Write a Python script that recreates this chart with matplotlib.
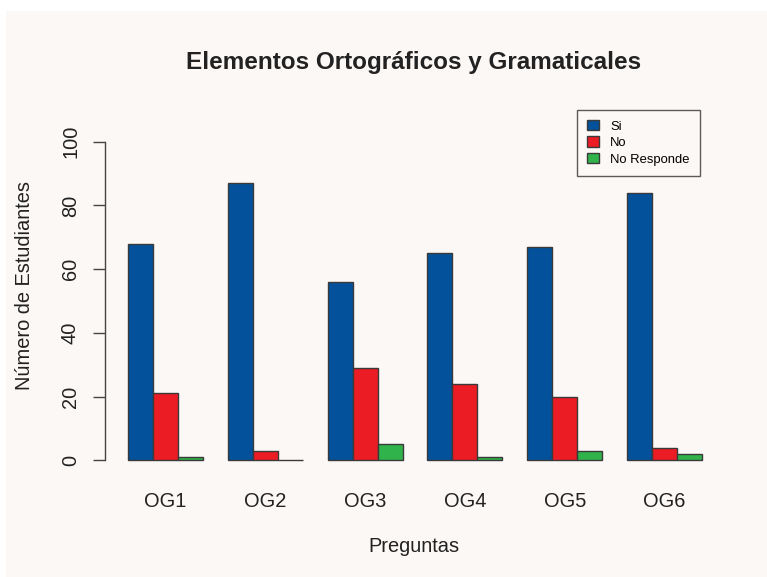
import matplotlib
matplotlib.use("Agg")
import matplotlib.pyplot as plt
import numpy as np
from matplotlib.patches import Rectangle

categories = ["OG1", "OG2", "OG3", "OG4", "OG5", "OG6"]
si = [68, 87, 56, 65, 67, 84]
no = [21, 3, 29, 24, 20, 4]
no_responde = [1, 0, 5, 1, 3, 2]
series_names = ["Si", "No", "No Responde"]
colors = ["#02519A", "#EC1C24", "#2FB34A"]
title = "Elementos Ortográficos y Gramaticales"
xlabel = "Preguntas"
ylabel = "Número de Estudiantes"
yticks = [0, 20, 40, 60, 80, 100]

plt.rcParams['font.family'] = ['Liberation Sans', 'DejaVu Sans']

W, H = 767, 577
fig = plt.figure(figsize=(W / 100, H / 100), dpi=100, facecolor="white")
bg = "#FCF8F5"
fig.patches.append(Rectangle((6 / W, 0), 1 - 6 / W, 1 - 11 / H, transform=fig.transFigure,
                             facecolor=bg, edgecolor="none", zorder=-10))

ax = fig.add_axes([105 / W, 1 - 473 / H, (725 - 105) / W, (473 - 129) / H])
ax.set_facecolor("none")
ax.set_zorder(5)

data = [si, no, no_responde]
n = len(categories)
for j, (vals, c, name) in enumerate(zip(data, colors, series_names)):
    lefts = [1 + 4 * i + j for i in range(n)]
    ax.bar(lefts, vals, width=1, align="edge", color=c, edgecolor="#3a3a3a",
           linewidth=1.0, label=name)

fs = 14.4
centers = [1 + 4 * i + 1.5 for i in range(n)]
ax.set_xlim(0.08, 24.92)
ax.set_ylim(-4, 104)
ax.set_xticks(centers)
ax.set_xticklabels(categories, fontsize=fs, color="#222222")
ax.tick_params(axis="x", length=0, pad=14)
ax.set_yticks(yticks)
ax.set_yticklabels([str(v) for v in yticks], fontsize=fs, color="#222222",
                   rotation=90, va="center")
ax.tick_params(axis="y", length=9, width=1, color="#444444", pad=9)

for s in ["top", "right", "bottom"]:
    ax.spines[s].set_visible(False)
ax.spines["left"].set_bounds(0, 100)
ax.spines["left"].set_color("#444444")
ax.spines["left"].set_linewidth(1)

fig.text(414 / W, 1 - 62 / H, title, ha="center", va="center", fontsize=17.5,
         fontweight="bold", color="#222222")
fig.text(414 / W, 1 - 547 / H, xlabel, ha="center", va="center", fontsize=fs, color="#222222")
fig.text(25 / W, 1 - 285 / H, ylabel, ha="center", va="center", fontsize=fs,
         rotation=90, color="#222222")

leg = ax.legend(loc="upper left", bbox_to_anchor=((577 - 105) / (725 - 105), 1 - (110 - 129) / (473 - 129)),
                frameon=True, fancybox=False, fontsize=9.4, handlelength=0.95, handleheight=0.85,
                handletextpad=0.85, borderpad=0.75, labelspacing=0.3, borderaxespad=0)
leg.get_frame().set_edgecolor("#333333")
leg.get_frame().set_linewidth(1.0)
leg.get_frame().set_facecolor(bg)

fig.savefig("out.png", dpi=100, facecolor="white")
